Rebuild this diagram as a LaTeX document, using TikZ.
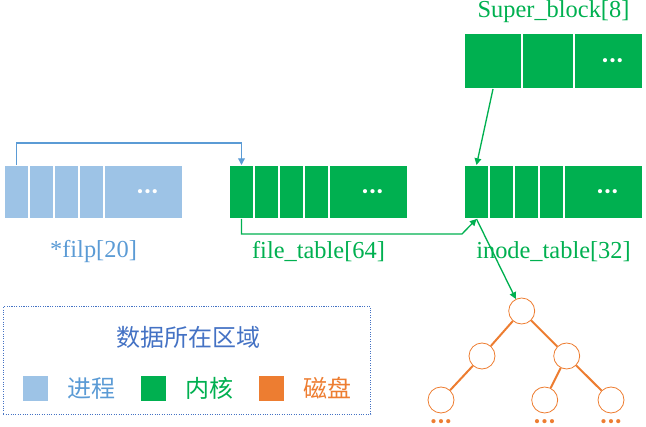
\documentclass[tikz,border=0pt]{standalone}
\usepackage{fontspec}
\setmainfont{Liberation Serif}
\newfontfamily\cjk{Noto Sans CJK SC}
\newfontfamily\dotfont{Carlito}
\usetikzlibrary{arrows.meta,positioning}
\definecolor{procblue}{HTML}{9DC3E6}
\definecolor{kgreen}{HTML}{00B050}
\definecolor{dorange}{HTML}{ED7D31}
\definecolor{lblue}{HTML}{5B9BD5}
\definecolor{tblue}{HTML}{4472C4}

\begin{document}
\begin{tikzpicture}[x=0.75pt, y=-0.75pt,
  cell/.style={fill=#1, draw=white, line width=0.9pt, minimum width=18.75pt, minimum height=40.5pt, inner sep=0pt, outer sep=0pt, text=white, font=\dotfont\bfseries\fontsize{21}{21}\selectfont},
  lbl/.style={font=\fontsize{18.3}{20}\selectfont, inner sep=0pt},
  arr/.style={-{Triangle[length=5pt,width=5pt]}, line width=1pt},
  nd/.style={circle, draw=dorange, line width=0.6pt, minimum size=19.5pt, inner sep=0pt},
  edge/.style={dorange, line width=1.5pt},
  more/.style={text=dorange, inner sep=0pt, font=\dotfont\bfseries\fontsize{21}{21}\selectfont},
  key/.style={fill=#1, minimum size=18.75pt, inner sep=0pt},
  keytxt/.style={font=\cjk\fontsize{18}{20}\selectfont, inner sep=0pt}]
\useasboundingbox (0,0) rectangle (646,427);
% process side
\foreach \i/\cx in {1/16.5,2/41.5,3/66.5,4/91.5}
  \node[cell=procblue] (fp\i) at (\cx,192) {};
\node[cell=procblue, minimum width=59.25pt] (fp5) at (143.5,192) {\hspace*{6pt}...};
\node[lbl, text=lblue] (fplbl) at (93.5,252) {*filp[20]};
% kernel side
\foreach \i/\cx in {1/241.5,2/266.5,3/291.5,4/316.5}
  \node[cell=kgreen] (ft\i) at (\cx,192) {};
\node[cell=kgreen, minimum width=59.25pt] (ft5) at (368.5,192) {\hspace*{6pt}...};
\node[lbl, text=kgreen] (ftlbl) at (318.5,252) {file\_table[64]};
\foreach \i/\cx in {1/476.5,2/501.5,3/526.5,4/551.5}
  \node[cell=kgreen] (it\i) at (\cx,192) {};
\node[cell=kgreen, minimum width=59.25pt] (it5) at (603.5,192) {\hspace*{6pt}...};
\node[lbl, text=kgreen] (itlbl) at (553.5,252) {inode\_table[32]};
\node[cell=kgreen, minimum width=43.5pt, minimum height=42pt] (sb1) at (493,61) {};
\node[cell=kgreen, minimum width=39pt, minimum height=42pt] (sb2) at (548,61) {};
\node[cell=kgreen, minimum width=51.75pt, minimum height=42pt] (sb3) at (608.5,61) {\hspace*{6pt}...};
\node[lbl, text=kgreen] (sblbl) at (553.5,12) {Super\_block[8]};
% disk tree
\node[nd] (root) at (521.7,311) {};
\node[nd] (l) at (482,356) {};
\node[nd] (r) at (566.7,356) {};
\node[nd] (ll) at (441,400) {};
\node[nd] (rl) at (544.7,400) {};
\node[nd] (rr) at (611,400) {};
\draw[edge] (root) -- (l);
\draw[edge] (root) -- (r);
\draw[edge] (l) -- (ll);
\draw[edge] (r) -- (rl);
\draw[edge] (r) -- (rr);
\node[more, below=4.5pt of ll] (llm) {...};
\node[more, below=4.5pt of rl] (rlm) {...};
\node[more, below=4.5pt of rr] (rrm) {...};
% connectors
\coordinate (bend) at (462,234);
\draw[arr, lblue] (fp1.north) -- ++(0,-22) -| (ft1.north);
\draw[arr, kgreen] (ft1.south) |- (bend) -- (it1.south);
\draw[arr, kgreen] (sb1.south) -- (it1.north);
\draw[arr, kgreen] (it1.south) -- (root);
% legend
\node[draw=tblue, densely dotted, line width=0.8pt, minimum width=275.5pt, minimum height=80.5pt] (legend) at (187,360.4) {};
\node[keytxt, text=tblue] (title) at (188,337) {数据所在区域};
\node[key=procblue] (k1) at (35.5,388.5) {};
\node[keytxt, text=lblue, right=14pt of k1] (t1) {进程};
\node[key=kgreen] (k2) at (153.5,388.5) {};
\node[keytxt, text=kgreen, right=14pt of k2] (t2) {内核};
\node[key=dorange] (k3) at (271.5,388.5) {};
\node[keytxt, text=dorange, right=14pt of k3] (t3) {磁盘};
\end{tikzpicture}
\end{document}
